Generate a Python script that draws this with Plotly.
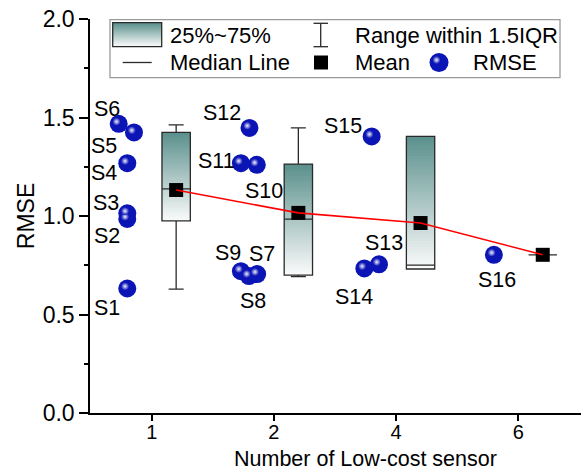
import plotly.graph_objects as go
import numpy as np

# ---------------- data ----------------
categories = ['1', '2', '4', '6']          # number of low-cost sensors
cat_pos = [1, 2, 3, 4]
sensor_names = ['S1', 'S2', 'S3', 'S4', 'S5', 'S6',
                'S7', 'S8', 'S9', 'S10', 'S11', 'S12',
                'S13', 'S14', 'S15', 'S16']
rmse = [0.632, 0.985, 1.014, 1.268, 1.424, 1.468,
        0.705, 0.695, 0.720, 1.260, 1.268, 1.447,
        0.755, 0.734, 1.404,
        0.803]
group = [0, 0, 0, 0, 0, 0, 1, 1, 1, 1, 1, 1, 2, 2, 2, 3]
jitter = [-0.20, -0.20, -0.20, -0.20, -0.145, -0.27,
          -0.137, -0.205, -0.27, -0.14, -0.27, -0.20,
          -0.14, -0.26, -0.20, -0.20]
q1 = [0.975, 0.700, 0.731, 0.803]
median = [1.138, 0.984, 0.751, 0.803]
q3 = [1.424, 1.263, 1.404, 0.803]
lower_whisker = [0.629, 0.692, 0.731, 0.803]
upper_whisker = [1.463, 1.447, 1.404, 0.803]
# label offsets (px) for the sensor labels
label_dx = [-20, -20, -21, -23, -30, -12, 5, 4, -13, 7, -24, -27, 5, -10, -29, 3]
label_dy = [-19, -17, 10, -10, -14, 15, 20, -25, 18, -26, 2, 15, 21, -29, 10, -25]

# ---------------- styling ----------------
FONT = 'Liberation Sans, Arial, sans-serif'
BOX_OFF = 0.2
BOX_W = 0.232
DARK = np.array([92, 145, 141])
LIGHT = np.array([249, 250, 250])
BLUE = '#0b14b4'
N_SLICES = 48

box_x = [p + BOX_OFF for p in cat_pos]
means = [float(np.mean([r for r, g in zip(rmse, group) if g == i])) for i in range(len(cat_pos))]
pt_x = [cat_pos[g] + j for g, j in zip(group, jitter)]

fig = go.Figure()

# gradient fill of the boxes (stacked slices from bottom/light to top/dark)
bx, bb, bh, bc = [], [], [], []
for i, x in enumerate(box_x):
    lo, hi = q1[i], q3[i]
    if hi - lo <= 0:
        continue
    for k in range(N_SLICES):
        t = k / (N_SLICES - 1)
        base = lo + (hi - lo) * k / N_SLICES
        c = LIGHT + (DARK - LIGHT) * t
        bx.append(x)
        bb.append(base)
        bh.append(hi - base)
        bc.append('rgb(%d,%d,%d)' % tuple(c.round().astype(int)))
fig.add_trace(go.Bar(x=bx, y=bh, base=bb, width=BOX_W,
                     marker=dict(color=bc, line=dict(width=0)),
                     hoverinfo='skip', showlegend=False))

# box outline, median, whiskers
fig.add_trace(go.Box(x=box_x, q1=q1, median=median, q3=q3,
                     lowerfence=lower_whisker, upperfence=upper_whisker,
                     width=BOX_W, whiskerwidth=0.53,
                     fillcolor='rgba(0,0,0,0)',
                     line=dict(color='#2a2a2a', width=1.3),
                     boxpoints=False, showlegend=False))

# RMSE spheres
fig.add_trace(go.Scatter(x=pt_x, y=rmse, mode='markers',
                         marker=dict(size=18, color=BLUE, line=dict(width=0)),
                         showlegend=False))
hl_dx, hl_dy = -0.018, 0.011
fig.add_trace(go.Scatter(x=[x + hl_dx for x in pt_x], y=[r + hl_dy for r in rmse], mode='markers',
                         marker=dict(size=8, color=BLUE,
                                     gradient=dict(type='radial', color='rgb(240,242,255)'),
                                     line=dict(width=0)),
                         hoverinfo='skip', showlegend=False))

# mean markers and connecting line
fig.add_trace(go.Scatter(x=box_x, y=means, mode='markers',
                         marker=dict(symbol='square', size=14, color='black', line=dict(width=0)),
                         showlegend=False))
fig.add_trace(go.Scatter(x=box_x, y=means, mode='lines',
                         line=dict(color='red', width=1.6), showlegend=False))

# sensor labels
for name, x, y, dx, dy in zip(sensor_names, pt_x, rmse, label_dx, label_dy):
    fig.add_annotation(x=x, y=y, xref='x', yref='y', text=name, showarrow=False,
                       xshift=dx, yshift=dy, font=dict(family=FONT, size=21.5, color='black'))

# ---------------- custom legend (pixel coordinates on overlay axes) ----------------
shapes = []
shapes.append(dict(type='rect', xref='x2', yref='y2', x0=110, x1=560, y0=19.5, y1=77.7,
                   line=dict(color='#9a9a9a', width=1.3), fillcolor='rgba(0,0,0,0)'))
sw_x0, sw_x1, sw_y0, sw_y1 = 112.7, 161.7, 22.7, 46.7
NS = 24
for k in range(NS):
    t = k / (NS - 1)
    c = DARK + (LIGHT - DARK) * t
    ya = sw_y0 + (sw_y1 - sw_y0) * k / NS
    yb = sw_y0 + (sw_y1 - sw_y0) * (k + 1) / NS + 0.5
    shapes.append(dict(type='rect', xref='x2', yref='y2', x0=sw_x0, x1=sw_x1, y0=ya, y1=min(yb, sw_y1),
                       line=dict(width=0), fillcolor='rgb(%d,%d,%d)' % tuple(c.round().astype(int))))
shapes.append(dict(type='rect', xref='x2', yref='y2', x0=sw_x0, x1=sw_x1, y0=sw_y0, y1=sw_y1,
                   line=dict(color='#2a2a2a', width=1.3), fillcolor='rgba(0,0,0,0)'))
shapes.append(dict(type='line', xref='x2', yref='y2', x0=122.7, x1=151.7, y0=62.5, y1=62.5,
                   line=dict(color='#2a2a2a', width=1.3)))
shapes.append(dict(type='line', xref='x2', yref='y2', x0=320.7, x1=320.7, y0=23.3, y1=46.7,
                   line=dict(color='#2a2a2a', width=1.3)))
for yy in (23.3, 46.7):
    shapes.append(dict(type='line', xref='x2', yref='y2', x0=313.5, x1=328, y0=yy, y1=yy,
                       line=dict(color='#2a2a2a', width=1.3)))
fig.update_layout(shapes=shapes)

fig.add_trace(go.Scatter(x=[321], y=[62.5], xaxis='x2', yaxis='y2', mode='markers',
                         marker=dict(symbol='square', size=14, color='black'), showlegend=False))
fig.add_trace(go.Scatter(x=[439], y=[62.5], xaxis='x2', yaxis='y2', mode='markers',
                         marker=dict(size=19, color=BLUE, line=dict(width=0)), showlegend=False))
fig.add_trace(go.Scatter(x=[436.5], y=[60], xaxis='x2', yaxis='y2', mode='markers',
                         marker=dict(size=8, color=BLUE, line=dict(width=0),
                                     gradient=dict(type='radial', color='rgb(240,242,255)')),
                         showlegend=False))

legend_texts = [('25%~75%', 168, 35.5), ('Median Line', 168, 62.5),
                ('Range within 1.5IQR', 352.5, 35.5), ('Mean', 352.5, 62.5), ('RMSE', 470.5, 62.5)]
for txt, x, y in legend_texts:
    fig.add_annotation(x=x, y=y, xref='x2', yref='y2', text=txt, showarrow=False,
                       xanchor='left', yanchor='middle',
                       font=dict(family=FONT, size=22, color='black'))

# axis titles (paper coordinates relative to the plot area)
fig.add_annotation(x=0.562, y=-0.1497, xref='paper', yref='paper', text='Number of Low-cost sensor',
                   showarrow=False, xanchor='center', yanchor='bottom', borderpad=0,
                   font=dict(family=FONT, size=21.5, color='black'))
fig.add_annotation(x=-0.130, y=0.5, xref='paper', yref='paper', text='RMSE', textangle=-90,
                   showarrow=False, xanchor='center', yanchor='middle',
                   font=dict(family=FONT, size=23, color='black'))

fig.update_layout(
    width=585, height=472,
    margin=dict(l=90, r=4, t=19, b=59),
    paper_bgcolor='white', plot_bgcolor='white',
    barmode='overlay',
    showlegend=False,
    font=dict(family=FONT, color='black'),
    xaxis=dict(range=[0.495, 4.513], tickvals=cat_pos, ticktext=categories,
               showline=True, linecolor='black', linewidth=1.5,
               ticks='outside', ticklen=6, tickwidth=1.5, tickcolor='black',
               ticklabelstandoff=-6,
               showgrid=False, zeroline=False,
               tickfont=dict(family=FONT, size=20, color='black')),
    yaxis=dict(range=[0, 2], tick0=0, dtick=0.5, tickformat='.1f',
               showline=True, linecolor='black', linewidth=1.5,
               ticks='outside', ticklen=9, tickwidth=1.5, tickcolor='black',
               minor=dict(ticks='outside', ticklen=4, tickwidth=1.5, tickcolor='black', dtick=0.25),
               showgrid=False, zeroline=False,
               tickfont=dict(family=FONT, size=23, color='black')),
    xaxis2=dict(overlaying='x', range=[90, 581], visible=False, fixedrange=True),
    yaxis2=dict(overlaying='y', range=[413, 19], visible=False, fixedrange=True),
)

fig.write_html('out.html')
